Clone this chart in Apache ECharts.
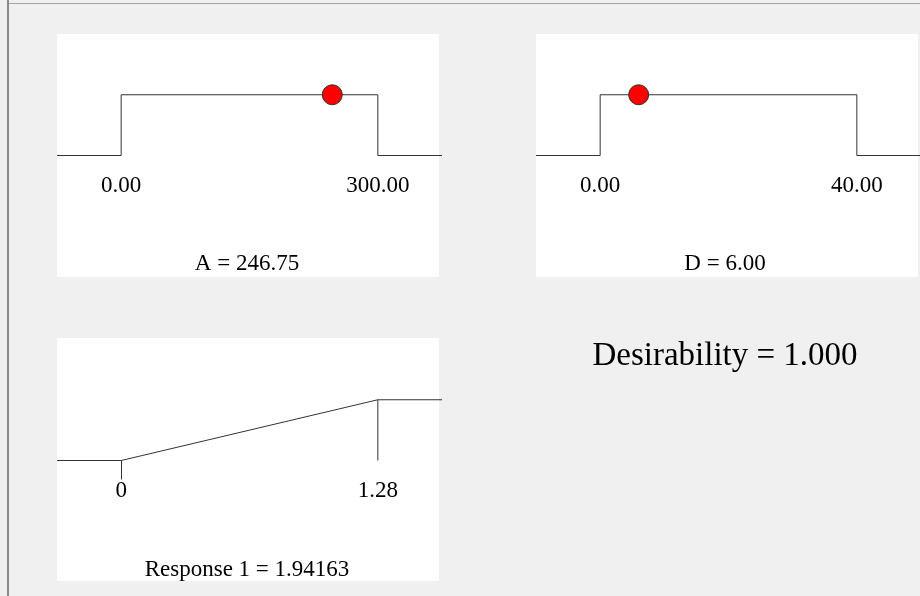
<!DOCTYPE html>
<html>
<head>
<meta charset="utf-8">
<style>
  html, body { margin: 0; padding: 0; background: #f0f0f0; }
  #chart { width: 920px; height: 596px; }
</style>
<script src="https://cdn.jsdelivr.net/npm/echarts@6/dist/echarts.min.js"></script>
</head>
<body>
<div id="chart"></div>
<script>
// Factor ranges and current settings
const factorNames = ['A', 'D'];
const factorLow = [0, 0];
const factorHigh = [300, 40];
const factorValue = [246.75, 6.00];
const factorValueText = ['246.75', '6.00'];
const factorTickLabels = [['0.00', '300.00'], ['0.00', '40.00']];

// Response goal (maximize between limits)
const responseName = 'Response 1';
const responseLow = 0;
const responseHigh = 1.28;
const responseValueText = '1.94163';
const responseTickLabels = ['0', '1.28'];

// Overall desirability
const desirabilityText = '1.000';

// ---- layout ----
const PANEL_W = 382, PANEL_H = 243;
const panels = [
  { left: 57, top: 34 },
  { left: 536, top: 34 },
  { left: 57, top: 338 }
];
// each plot area runs from the panel top down to the d = 0 baseline
const PLOT_H = 121.5;
const FONT = '"Liberation Serif", "Times New Roman", serif';
const SMALL = 23;
const LINE = '#333333';

const chart = echarts.init(document.getElementById('chart'), null, { renderer: 'canvas' });

const grids = [], xAxes = [], yAxes = [], series = [], graphics = [];

// frame lines
graphics.push({ type: 'rect', shape: { x: 7, y: 0, width: 2, height: 596 }, style: { fill: '#8a8a8a' }, silent: true });
graphics.push({ type: 'rect', shape: { x: 9, y: 3, width: 911, height: 1 }, style: { fill: '#a4a4a4' }, silent: true });

// white panel backgrounds
panels.forEach(p => {
  graphics.push({ type: 'rect', shape: { x: p.left, y: p.top, width: PANEL_W, height: PANEL_H }, style: { fill: '#ffffff' }, silent: true, z: -1 });
});

function addAxes(i, panel, low, high, labels, tickAt) {
  const pad = (high - low) * 0.25;
  grids.push({
    left: panel.left, top: panel.top + (i === 2 ? 1 : 0), width: 385, height: PLOT_H,
    containLabel: false, outerBoundsMode: 'none', show: false
  });
  xAxes.push({
    type: 'value', gridIndex: i, min: low - pad, max: high + pad, position: 'bottom',
    axisLine: { show: false, onZero: false },
    axisTick: tickAt != null
      ? { show: true, customValues: [tickAt], length: 19, lineStyle: { color: LINE, width: 1 } }
      : { show: false },
    splitLine: { show: false },
    axisLabel: {
      show: true, customValues: [low, high], margin: 19,
      color: '#000', fontFamily: FONT, fontSize: SMALL,
      formatter: v => (Math.abs(v - low) < 1e-9 ? labels[0] : labels[1])
    }
  });
  yAxes.push({ type: 'value', gridIndex: i, min: 0, max: 2, show: false });
  return pad;
}

// factor panels: in-range step with current setting marker
for (let i = 0; i < 2; i++) {
  const lo = factorLow[i], hi = factorHigh[i];
  const pad = addAxes(i, panels[i], lo, hi, factorTickLabels[i], null);
  series.push({
    type: 'line', xAxisIndex: i, yAxisIndex: i, symbol: 'none', silent: true, clip: false,
    lineStyle: { color: LINE, width: 1 },
    data: [[lo - pad, 0], [lo, 0], [lo, 1], [hi, 1], [hi, 0], [hi + pad, 0]]
  });
  series.push({
    type: 'scatter', xAxisIndex: i, yAxisIndex: i, symbol: 'circle', symbolSize: 20, silent: true, z: 5, clip: false,
    itemStyle: { color: '#ff0000', opacity: 1, borderColor: '#303030', borderWidth: 1 },
    data: [[factorValue[i], 1]]
  });
  graphics.push({
    type: 'text', x: i === 0 ? 247 : 725, y: 263.5,
    style: { text: factorNames[i] + ' = ' + factorValueText[i], fill: '#000', font: SMALL + 'px ' + FONT,
             align: 'center', verticalAlign: 'middle', textAlign: 'center', textVerticalAlign: 'middle' }
  });
}

// response panel: linear ramp from lower to upper limit
{
  const lo = responseLow, hi = responseHigh;
  const pad = addAxes(2, panels[2], lo, hi, responseTickLabels, lo);
  series.push({
    type: 'line', xAxisIndex: 2, yAxisIndex: 2, symbol: 'none', silent: true, clip: false,
    lineStyle: { color: LINE, width: 1 },
    data: [[lo - pad, 0], [lo, 0], [hi, 1], [hi + pad, 1]]
  });
  series.push({
    type: 'line', xAxisIndex: 2, yAxisIndex: 2, symbol: 'none', silent: true, clip: false,
    lineStyle: { color: LINE, width: 1 },
    data: [[hi, 1], [hi, 0]]
  });
  graphics.push({
    type: 'text', x: 247, y: 569.5,
    style: { text: responseName + ' = ' + responseValueText, fill: '#000', font: SMALL + 'px ' + FONT,
             align: 'center', verticalAlign: 'middle', textAlign: 'center', textVerticalAlign: 'middle' }
  });
}

graphics.push({
  type: 'text', x: 725, y: 356.5,
  style: { text: 'Desirability = ' + desirabilityText, fill: '#000', font: '33px ' + FONT,
           align: 'center', verticalAlign: 'middle', textAlign: 'center', textVerticalAlign: 'middle' }
});

chart.setOption({
  animation: false,
  backgroundColor: '#f0f0f0',
  grid: grids,
  xAxis: xAxes,
  yAxis: yAxes,
  series: series,
  graphic: { elements: graphics }
});
</script>
</body>
</html>
